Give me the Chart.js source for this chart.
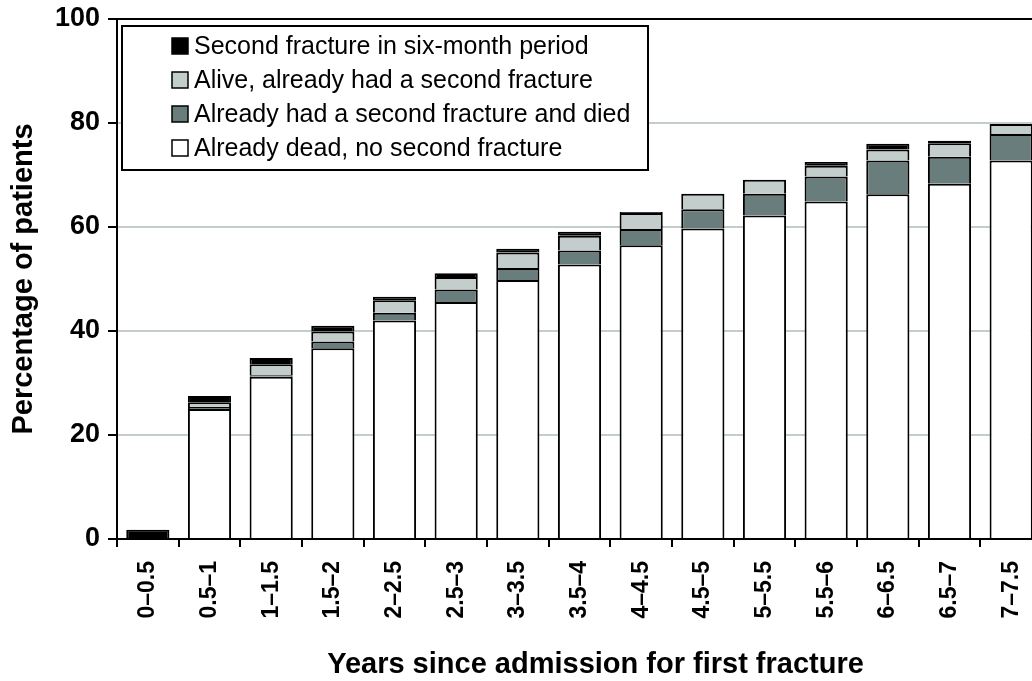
<!DOCTYPE html>
<html>
<head>
<meta charset="utf-8">
<script src="https://cdn.jsdelivr.net/npm/chart.js@4"></script>
<style>
  html, body { margin: 0; padding: 0; background: #fff; overflow: hidden; }
  #wrap { width: 1045px; height: 681px; }
</style>
</head>
<body>
<div id="wrap"><canvas id="chart" width="1045" height="681"></canvas></div>
<script>
const categories = ['0\u20130.5', '0.5\u20131', '1\u20131.5', '1.5\u20132', '2\u20132.5', '2.5\u20133', '3\u20133.5',
    '3.5\u20134', '4\u20134.5', '4.5\u20135', '5\u20135.5', '5.5\u20136', '6\u20136.5', '6.5\u20137', '7\u20137.5'];

// stacked bottom to top
const deadNoSecond = [0, 25.0, 31.2, 36.7, 42.0, 45.6, 49.8, 52.8, 56.5, 59.7, 62.2, 64.9, 66.3, 68.3, 72.8];
const secondThenDied = [0, 0.4, 0.3, 1.3, 1.5, 2.4, 2.3, 2.7, 3.1, 3.7, 4.2, 4.8, 6.5, 5.2, 5.1];
const aliveHadSecond = [0, 0.9, 2.1, 1.9, 2.4, 2.4, 3.0, 2.8, 3.1, 3.0, 2.7, 2.1, 2.1, 2.6, 1.9];
const secondInPeriod = [1.8, 1.2, 1.2, 1.1, 0.7, 0.7, 0.7, 0.8, 0.2, 0, 0, 0.7, 1.1, 0.5, 0];

const yTicks = [0, 20, 40, 60, 80, 100];
const xTitle = 'Years since admission for first fracture';

const LIGHT = '#c3cdcc';
const DARK = '#6a7d7d';
const FONT = '"Liberation Sans", Arial, sans-serif';

function bar(label, data, color) {
    return {
        label: label,
        data: data,
        backgroundColor: color,
        borderColor: '#000',
        borderWidth: 2,
        categoryPercentage: 1,
        barPercentage: 0.7
    };
}

const datasets = [
    bar('Already dead, no second fracture', deadNoSecond, '#ffffff'),
    bar('Already had a second fracture and died', secondThenDied, DARK),
    bar('Alive, already had a second fracture', aliveHadSecond, LIGHT),
    bar('Second fracture in six-month period', secondInPeriod, '#000000')
];

// no extra label overhang, so the layout padding alone fixes the plot box
function noPad(s) {
    s.paddingTop = 0; s.paddingBottom = 0;
    s.paddingLeft = 0; s.paddingRight = 0;
}

// legend box inside the plot (top item = last dataset) + x axis title
const boxLegend = {
    id: 'boxLegend',
    afterDraw(chart) {
        const ctx = chart.ctx;
        const a = chart.chartArea;
        const x = a.left + 5, y = a.top + 7, w = 526, h = 144;
        ctx.save();
        ctx.fillStyle = '#fff';
        ctx.fillRect(x, y, w, h);
        ctx.strokeStyle = '#000';
        ctx.lineWidth = 2;
        ctx.strokeRect(x, y, w, h);
        ctx.font = '25px ' + FONT;
        ctx.textBaseline = 'middle';
        const items = chart.data.datasets.slice().reverse();
        items.forEach((ds, i) => {
            const cy = y + 20 + i * 34;
            ctx.fillStyle = ds.backgroundColor;
            ctx.fillRect(x + 50, cy - 8, 16, 16);
            ctx.lineWidth = 1.5;
            ctx.strokeStyle = '#000';
            ctx.strokeRect(x + 50, cy - 8, 16, 16);
            ctx.fillStyle = '#000';
            ctx.fillText(ds.label, x + 72, cy + 1);
        });

        // axis title, centred a little right of the plot centre as in the source
        ctx.font = 'bold 29px ' + FONT;
        ctx.textAlign = 'center';
        ctx.fillText(xTitle, (a.left + a.right) / 2 + 16, 665);
        ctx.restore();
    }
};

new Chart(document.getElementById('chart'), {
    type: 'bar',
    data: { labels: categories, datasets: datasets },
    options: {
        responsive: false,
        animation: false,
        layout: { padding: { top: 19, right: 3, left: 0, bottom: 0 } },
        plugins: {
            legend: { display: false },
            tooltip: { enabled: false }
        },
        scales: {
            x: {
                stacked: true,
                grid: { drawOnChartArea: false, tickColor: '#000', tickLength: 8, lineWidth: 2 },
                border: { color: '#000', width: 2 },
                ticks: {
                    color: '#000',
                    minRotation: 90, maxRotation: 90,
                    padding: 14,
                    font: { family: FONT, size: 23, weight: 'bold' }
                },
                afterFit(s) { s.height = 142; noPad(s); }
            },
            y: {
                stacked: true,
                min: 0, max: 100,
                afterBuildTicks(s) { s.ticks = yTicks.map(v => ({ value: v })); },
                grid: {
                    color: c => c.tick && c.tick.value === 100 ? '#000' : LIGHT,
                    lineWidth: 2,
                    tickColor: '#000',
                    tickLength: 9
                },
                border: { color: '#000', width: 2 },
                ticks: {
                    color: '#000',
                    padding: 8,
                    font: { family: FONT, size: 27, weight: 'bold' }
                },
                title: {
                    display: true,
                    text: 'Percentage of patients',
                    color: '#000',
                    padding: { top: 7, bottom: 0 },
                    font: { family: FONT, size: 29, weight: 'bold' }
                },
                afterFit(s) { s.width = 117; noPad(s); }
            }
        }
    },
    plugins: [boxLegend]
});
</script>
</body>
</html>
